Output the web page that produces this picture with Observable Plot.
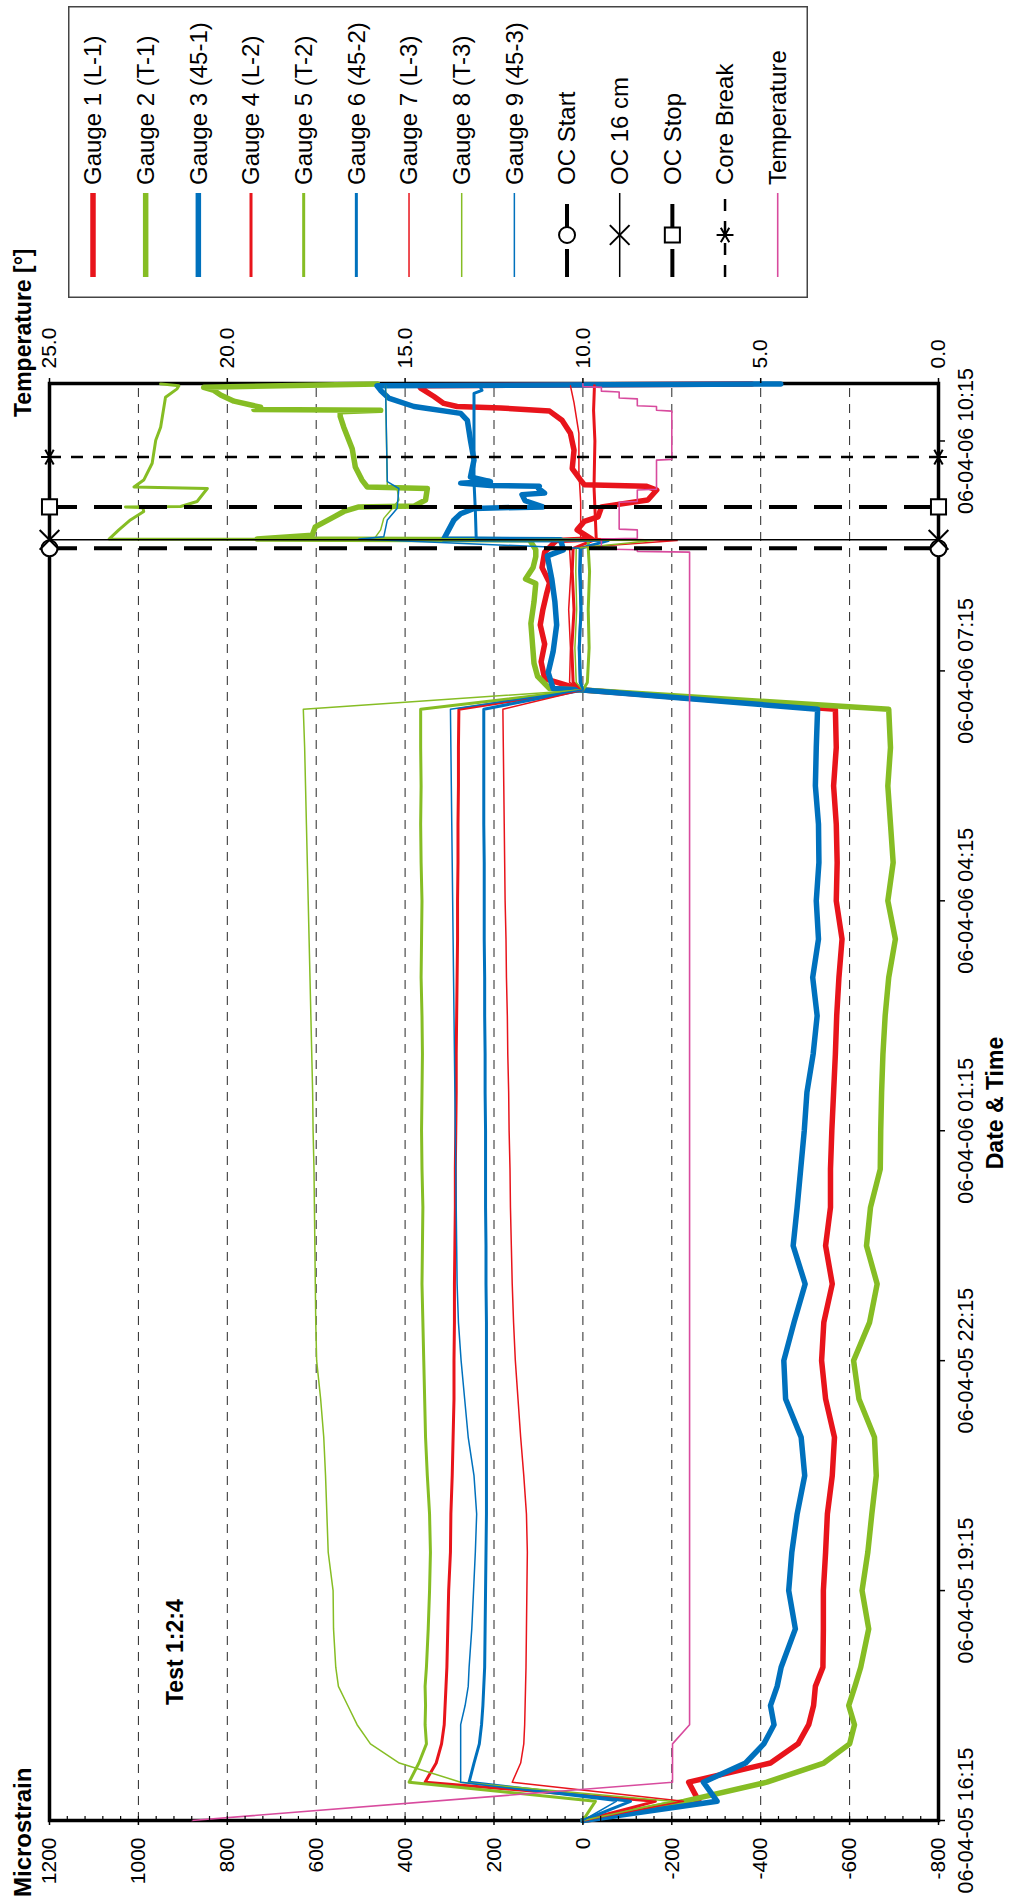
<!DOCTYPE html>
<html><head><meta charset="utf-8">
<script src="https://cdn.jsdelivr.net/npm/d3@7"></script>
<script src="https://cdn.jsdelivr.net/npm/@observablehq/plot@0.6"></script>
<style>
html,body{margin:0;padding:0;background:#fff;}
body{width:1010px;height:1903px;overflow:hidden;position:relative;}
#rot{position:absolute;left:0;top:0;width:1903px;height:1010px;transform-origin:0 0;transform:translate(0px,1903px) rotate(-90deg);font-family:"Liberation Sans",Arial,sans-serif;background:#fff;}
#chart{position:absolute;left:0;top:0;width:1700px;height:1010px;}
#legend{position:absolute;left:1605px;top:68px;}
</style></head><body>
<div id="rot"><div id="chart"></div><svg id="legend" width="292" height="740"></svg></div>
<script>
// ---- time axis (hours after 06-04-05 16:15) ----
const BASE = Date.UTC(2006, 3, 5, 16, 15);
const T = h => new Date(BASE + h * 3600e3);
const xMaxH = 18.75;
const dateTickH = [0, 3, 6, 9, 12, 15, 18];
const yTicks = [-800, -600, -400, -200, 0, 200, 400, 600, 800, 1000, 1200];
const tempTicks = [0, 5, 10, 15, 20, 25];

// ---- pre-overcoring readings ----
const preH = [0,0.25,0.5,0.75,1,1.25,1.5,1.75,2,2.5,3,3.5,4,4.5,5,5.5,6,6.5,7,7.5,8,8.5,9,9.5,10,10.5,11,11.5,12,12.5,13,13.5,14,14.5,14.75];
const g1Pre = [0,-261,-238,-422,-484,-508,-519,-523,-540,-541,-541,-546,-550,-561,-566,-546,-537,-542,-561,-546,-557,-557,-560,-564,-568,-571,-576,-583,-570,-572,-570,-564,-570,-568,0];
const g2Pre = [0,-227,-414,-542,-600,-611,-598,-612,-625,-643,-628,-641,-650,-660,-656,-621,-609,-645,-662,-638,-647,-669,-670,-672,-675,-680,-688,-703,-686,-698,-692,-686,-692,-688,0];
const g3Pre = [0,-302,-271,-366,-407,-430,-422,-437,-446,-478,-463,-470,-482,-499,-491,-456,-452,-475,-500,-473,-482,-490,-498,-504,-518,-527,-517,-530,-525,-531,-530,-523,-525,-528,0];
const g4Pre = [0,-163,355,330,318,312,310,308,306,304,302,298,297,294,292,290,290,289,289,288,287,287,286,285,285,284,283,282,282,281,281,280,280,279,0];
const g5Pre = [0,-28,391,369,352,355,354,355,352,348,345,343,345,350,354,356,358,360,362,361,360,362,363,362,361,362,364,363,362,364,365,364,365,365,0];
const g6Pre = [0,-107,256,245,233,228,225,223,221,220,219,218,217,217,217,217,217,217,218,218,219,219,219,220,220,221,221,222,222,222,223,223,223,223,0];
const g7Pre = [0,-226,159,140,133,131,130,129,128,127,126,125,127,133,140,146,152,156,159,161,163,164,166,167,169,170,172,173,175,176,177,178,179,180,0];
const g8Pre = [0,-200,275,413,478,508,529,550,556,561,562,573,576,579,583,590,599,601,602,603,604,605,607,608,610,612,614,616,618,620,622,624,626,629,0];
const g9Pre = [0,-75,275,275,275,275,265,258,256,250,246,242,239,245,258,266,274,280,283,284,285,286,287,288,289,290,291,292,293,294,295,296,297,298,0];

// ---- overcoring readings [hours, microstrain] ----
const g1Oc = [[14.9,86],[15.12,94],[15.35,86],[15.6,96],[15.8,90],[16.0,82],[16.15,75],[16.35,92],[16.55,86],[16.70,60],[16.72,-20],[16.84,13],[16.95,-3],[17.01,-34],[17.14,-42],[17.23,-146],[17.36,-166],[17.41,-142],[17.43,-3],[17.49,5],[17.64,24],[17.88,20],[18.10,28],[18.27,47],[18.39,75],[18.43,185],[18.45,283],[18.49,313],[18.58,335],[18.69,365],[18.72,368],[18.745,-380]];
const g2Oc = [[14.77,75],[14.93,102],[15.1,110],[15.32,113],[15.62,117],[15.9,110],[16.14,106],[16.2,129],[16.35,112],[16.49,106],[16.58,106],[16.71,120],[16.72,733],[16.77,609],[16.88,602],[17.01,560],[17.08,538],[17.14,504],[17.15,380],[17.23,354],[17.38,350],[17.40,485],[17.49,497],[17.66,512],[17.90,519],[18.18,538],[18.32,546],[18.38,546],[18.40,455],[18.41,740],[18.44,725],[18.52,785],[18.60,815],[18.66,830],[18.70,853],[18.745,462]];
const g3Oc = [[14.77,67],[14.98,78],[15.25,67],[15.6,59],[15.9,63],[16.2,70],[16.5,80],[16.58,44],[16.71,50],[16.72,313],[16.84,302],[16.97,290],[17.05,275],[17.12,245],[17.14,90],[17.22,130],[17.30,137],[17.32,86],[17.38,100],[17.41,98],[17.42,208],[17.45,275],[17.47,208],[17.53,253],[17.75,245],[18.01,253],[18.27,260],[18.36,275],[18.45,380],[18.56,437],[18.66,455],[18.72,463],[18.745,-445]];
const g4Oc = [[14.85,22],[15.3,25],[15.8,20],[16.3,24],[16.6,22],[16.72,-30],[17.0,-28],[17.4,-25],[18.0,-27],[18.4,-24],[18.72,-26]];
const g5Oc = [[14.85,-10],[15.3,-14],[15.8,-12],[16.3,-15],[16.6,-12],[16.71,-12],[16.72,1066],[16.84,1044],[16.97,1018],[17.08,988],[17.13,990],[17.14,1029],[17.145,905],[17.21,868],[17.38,845],[17.40,1010],[17.49,988],[17.71,969],[18.01,961],[18.18,950],[18.57,939],[18.68,913],[18.72,909],[18.745,950]];
const g6Oc = [[14.85,5],[15.3,8],[15.8,4],[16.3,6],[16.6,5],[16.70,-57],[16.72,240],[17.1,242],[17.47,245],[18.0,245],[18.62,245],[18.66,227],[18.72,232]];
const g7Oc = [[14.85,30],[15.3,28],[15.8,32],[16.3,27],[16.6,30],[16.70,-212],[16.73,5],[17.2,5],[17.6,9],[18.1,9],[18.5,20],[18.72,28]];
const g8Oc = [[14.85,15],[15.3,18],[15.8,14],[16.3,16],[16.6,15],[16.70,-158],[16.72,470],[16.84,455],[16.99,448],[17.12,429],[17.23,414],[17.38,418],[17.40,440],[18.72,444]];
const g9Oc = [[14.85,8],[15.3,10],[15.8,6],[16.3,9],[16.6,8],[16.72,504],[16.75,448],[16.97,440],[17.12,418],[17.38,414],[17.47,440],[18.72,444]];

// ---- temperature [hours, degrees] ----
const tempData = [[0,21.0],[0.5,7.48],[1.0,7.48],[1.25,7.0],[16.55,7.0],[16.56,8.47],[16.58,8.47],[16.59,9.48],[16.72,9.48],[16.73,8.47],[16.84,8.47],[16.85,8.98],[17.20,8.98],[17.21,8.47],[17.36,8.47],[17.37,7.93],[17.75,7.93],[17.76,7.5],[18.39,7.5],[18.40,7.93],[18.45,7.93],[18.46,8.47],[18.55,8.47],[18.56,8.98],[18.64,8.98],[18.65,9.48],[18.70,9.48],[18.71,10.0],[18.745,10.0]];

// ---- events ----
const eventNames = ["OC Start", "OC 16 cm", "OC Stop", "Core Break"];
const eventH = [16.60, 16.71, 17.14, 17.79];

const gaugeNames = ["Gauge 1 (L-1)","Gauge 2 (T-1)","Gauge 3 (45-1)","Gauge 4 (L-2)","Gauge 5 (T-2)","Gauge 6 (45-2)","Gauge 7 (L-3)","Gauge 8 (T-3)","Gauge 9 (45-3)"];

const RED = "#e8141b", GREEN = "#86bd24", BLUE = "#0071bd", PINK = "#d84b9e";
const gaugeColor = [RED, GREEN, BLUE, RED, GREEN, BLUE, RED, GREEN, BLUE];
const gaugeWidth = [5.5, 5.5, 5.5, 3, 3, 3, 1.5, 1.5, 1.5];
const eventStyle = [
  {w: 4, dash: "28,17", symbol: "circle", r: 8},
  {w: 1.5, dash: null, symbol: "times", r: 9},
  {w: 4, dash: "28,17", symbol: "square", r: 8.5},
  {w: 2.5, dash: "12,10", symbol: "asterisk", r: 8}
];

const preSeries = [g1Pre,g2Pre,g3Pre,g4Pre,g5Pre,g6Pre,g7Pre,g8Pre,g9Pre];
const ocSeries = [g1Oc,g2Oc,g3Oc,g4Oc,g5Oc,g6Oc,g7Oc,g8Oc,g9Oc];
const series = preSeries.map((vals, i) =>
  preH.map((h, j) => ({t: T(h), m: vals[j]}))
    .concat(ocSeries[i].map(([h, m]) => ({t: T(h), m}))));
const tempToM = v => v * 80 - 800;
const temp = tempData.map(([h, v]) => ({t: T(h), v}));
const minorTicks = d3.range(-800, 1201, 40);

const chart = Plot.plot({
  width: 1700, height: 1010,
  marginLeft: 82, marginRight: 181, marginTop: 49, marginBottom: 72,
  style: {fontFamily: '"Liberation Sans", Arial, sans-serif', fontSize: "21px", color: "#000", background: "transparent", overflow: "visible", maxWidth: "none"},
  x: {type: "utc", domain: [T(0), T(xMaxH)]},
  y: {domain: [-800, 1200]},
  marks: [
    Plot.gridY({ticks: yTicks.filter(v => v > -800 && v < 1200), stroke: "#000", strokeOpacity: 0.85, strokeDasharray: "9,7", strokeWidth: 1}),
    Plot.frame({stroke: "#000", strokeWidth: 3.5}),
    ...series.map((d, i) => Plot.line(d, {x: "t", y: "m", stroke: gaugeColor[i], strokeWidth: gaugeWidth[i], strokeLinejoin: "round"})),
    Plot.line(temp, {x: "t", y: d => tempToM(d.v), stroke: PINK, strokeWidth: 1.6}),
    ...eventH.map((h, i) => Plot.ruleX([T(h)], {stroke: "#000", strokeWidth: eventStyle[i].w, strokeDasharray: eventStyle[i].dash})),
    ...eventH.map((h, i) => Plot.dot([-800, 1200], {x: () => T(h), y: d => d, symbol: eventStyle[i].symbol, r: eventStyle[i].r, fill: "white", stroke: "#000", strokeWidth: 2})),
    Plot.axisY({anchor: "left", ticks: yTicks, tickFormat: v => String(v), tickSize: 4, tickPadding: 13, fontSize: 21, strokeWidth: 1.5, label: null}),
    Plot.axisY({anchor: "left", ticks: minorTicks, tickSize: -5, tickFormat: () => "", strokeWidth: 1.2, label: null}),
    Plot.axisY({anchor: "right", ticks: tempTicks.map(tempToM), tickFormat: v => ((v + 800) / 80).toFixed(1), tickSize: 5, tickPadding: 10, fontSize: 21, strokeWidth: 1.5, label: null}),
    Plot.axisX({anchor: "bottom", ticks: dateTickH.map(T), tickFormat: d3.utcFormat("%y-%m-%d %H:%M"), tickSize: 7, tickPadding: 12, fontSize: 21.5, strokeWidth: 1.5, label: null})
  ]
});
document.getElementById("chart").appendChild(chart);

const svg = d3.select(chart);
const addText = (x, y, txt, size, anchor) => svg.append("text").attr("x", x).attr("y", y)
  .attr("font-family", '"Liberation Sans", Arial, sans-serif').attr("font-weight", "bold")
  .attr("font-size", size).attr("text-anchor", anchor || "start").attr("fill", "#000").text(txt);
addText(6, 31, "Microstrain", 24);
addText(1486, 31, "Temperature [°]", 23);
addText(800, 1003, "Date & Time", 23, "middle");
addText(198, 183, "Test 1:2:4", 23);

// ---- legend ----
const lg = d3.select("#legend");
lg.append("rect").attr("x", 0.75).attr("y", 0.75).attr("width", 290.5).attr("height", 738.5)
  .attr("fill", "white").attr("stroke", "#444").attr("stroke-width", 1.5);
const symMap = {circle: d3.symbolCircle, times: d3.symbolTimes, square: d3.symbolSquare, asterisk: d3.symbolAsterisk};
const items = gaugeNames.map((n, i) => ({name: n, color: gaugeColor[i], w: gaugeWidth[i]}))
  .concat(eventNames.map((n, i) => ({name: n, color: "#000", w: eventStyle[i].w, dash: eventStyle[i].dash, symbol: eventStyle[i].symbol, r: eventStyle[i].r})))
  .concat([{name: "Temperature", color: PINK, w: 1.6}]);
items.forEach((it, i) => {
  const y = 25 + i * 52.67;
  lg.append("line").attr("x1", 21).attr("x2", 105).attr("y1", y).attr("y2", y)
    .attr("stroke", it.color).attr("stroke-width", it.w).attr("stroke-dasharray", it.dash || null);
  if (it.symbol) {
    lg.append("path").attr("transform", `translate(63,${y})`)
      .attr("d", d3.symbol(symMap[it.symbol], Math.PI * it.r * it.r)())
      .attr("fill", "white").attr("stroke", "#000").attr("stroke-width", 2);
  }
  lg.append("text").attr("x", 113).attr("y", y).attr("dy", "0.35em")
    .attr("font-family", '"Liberation Sans", Arial, sans-serif').attr("font-size", 24).attr("fill", "#000").text(it.name);
});
</script></body></html>
